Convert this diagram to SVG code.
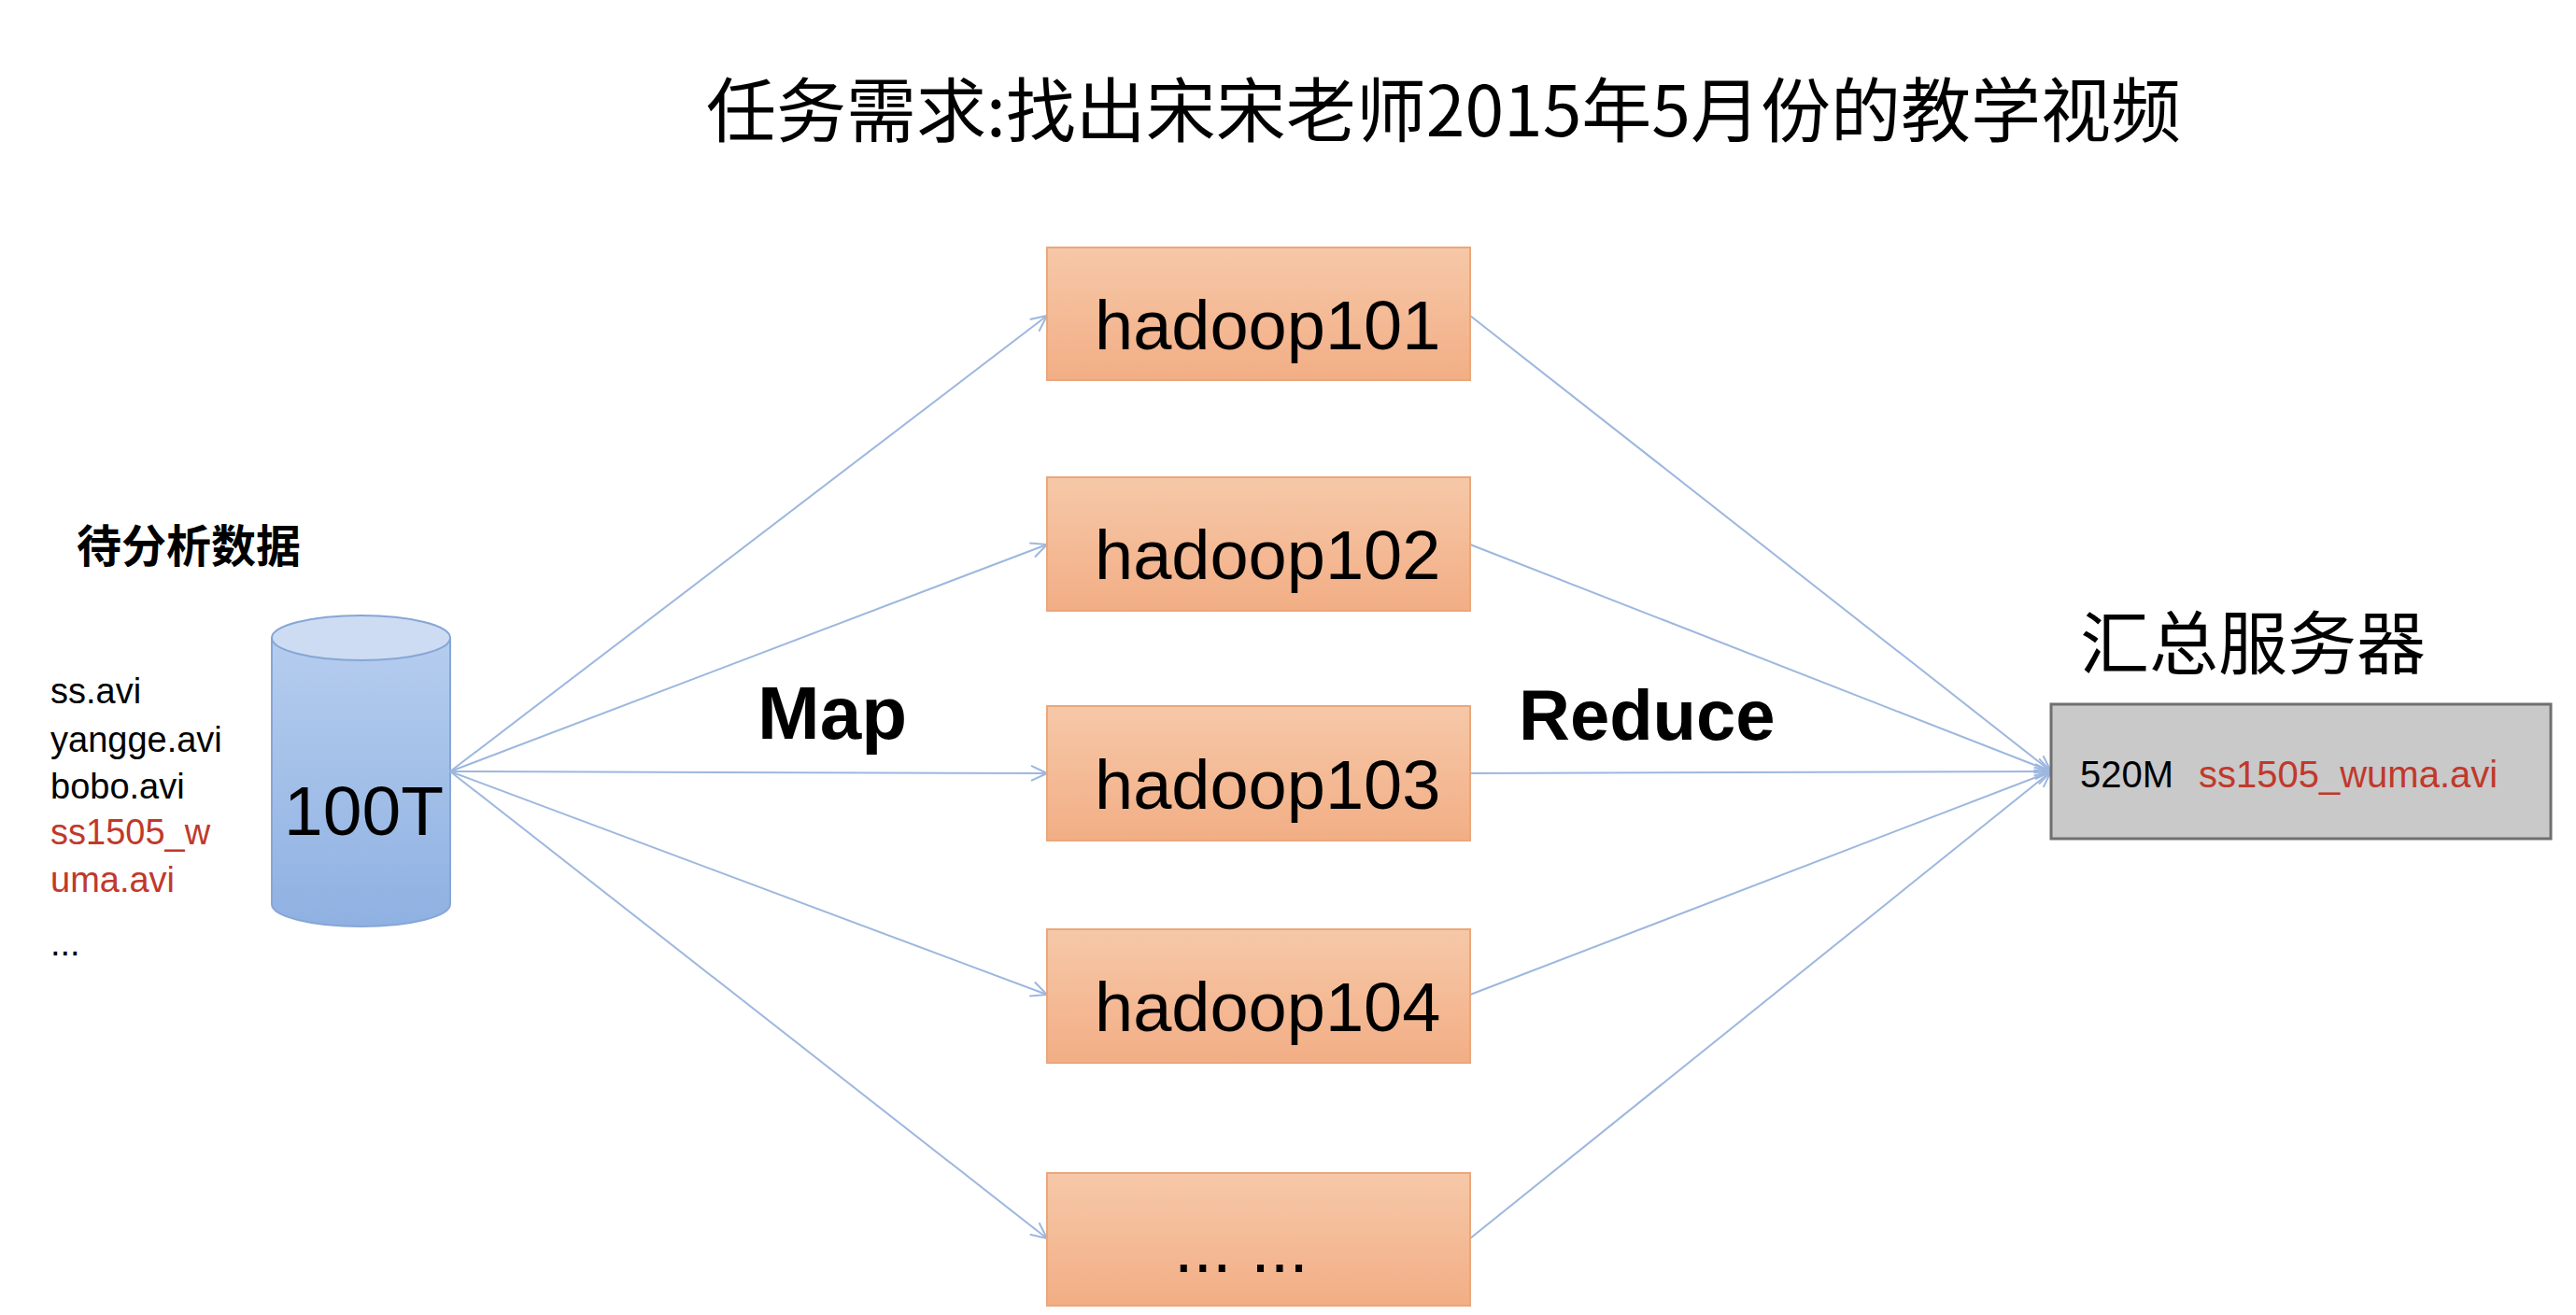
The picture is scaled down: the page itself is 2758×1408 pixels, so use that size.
<svg xmlns="http://www.w3.org/2000/svg" width="2758" height="1408" viewBox="0 0 2758 1408">
<style>
.t{font-family:"Liberation Sans","Noto Sans CJK SC",sans-serif;fill:#000}
.cn{font-family:"Noto Sans CJK SC","Liberation Sans",sans-serif;fill:#000}
.red{fill:#c0392b}
.box{fill:url(#og);stroke:#eaa77a;stroke-width:2}
.h{font-size:74px}
.ln{stroke:#9db7df;stroke-width:2;fill:none;marker-end:url(#ar)}
</style>
<defs>
<linearGradient id="og" x1="0" y1="0" x2="0" y2="1"><stop offset="0" stop-color="#f6c8a8"/><stop offset="1" stop-color="#f2ae85"/></linearGradient>
<linearGradient id="cg" x1="0" y1="0" x2="0" y2="1"><stop offset="0" stop-color="#b5cdee"/><stop offset="1" stop-color="#8fb1e2"/></linearGradient>
<marker id="ar" viewBox="0 0 20 20" refX="19" refY="10" markerWidth="20" markerHeight="20" markerUnits="userSpaceOnUse" orient="auto"><path d="M2 2 L19 10 L2 18" fill="none" stroke="#9db7df" stroke-width="2"/></marker>
</defs>
<rect width="2758" height="1408" fill="#fff"/>
<text class="cn" x="756" y="146" font-size="75">任务需求:找出宋宋老师2015年5月份的教学视频</text>
<g id="data">
<text class="cn" x="82" y="602" font-size="48" font-weight="bold">待分析数据</text>
<text class="t" x="54" y="753" font-size="38">ss.avi</text>
<text class="t" x="54" y="805" font-size="38">yangge.avi</text>
<text class="t" x="54" y="855" font-size="38">bobo.avi</text>
<text class="t red" x="54" y="904" font-size="38">ss1505_w</text>
<text class="t red" x="54" y="955" font-size="38">uma.avi</text>
<text class="t" x="54" y="1023" font-size="38">...</text>
</g>
<g id="cyl">
<path d="M291 683 L291 968 A95.5 24 0 0 0 482 968 L482 683 Z" fill="url(#cg)" stroke="#86a6d6" stroke-width="2"/>
<ellipse cx="386.5" cy="683" rx="95.5" ry="24" fill="#cddcf2" stroke="#86a6d6" stroke-width="2"/>
<text class="t" x="304" y="894" font-size="75">100T</text>
</g>
<g id="connectors">
<line class="ln" x1="482" y1="826" x2="1121" y2="338"/>
<line class="ln" x1="482" y1="826" x2="1121" y2="583"/>
<line class="ln" x1="482" y1="826" x2="1121" y2="828"/>
<line class="ln" x1="482" y1="826" x2="1121" y2="1065"/>
<line class="ln" x1="482" y1="826" x2="1121" y2="1326"/>
<line class="ln" x1="1574" y1="338" x2="2196" y2="826"/>
<line class="ln" x1="1574" y1="583" x2="2196" y2="826"/>
<line class="ln" x1="1574" y1="828" x2="2196" y2="826"/>
<line class="ln" x1="1574" y1="1065" x2="2196" y2="826"/>
<line class="ln" x1="1574" y1="1326" x2="2196" y2="826"/>
</g>
<text class="t" x="811" y="791" font-size="80" font-weight="bold">Map</text>
<text class="t" x="1626" y="792" font-size="76" font-weight="bold">Reduce</text>
<g id="h101"><rect class="box" x="1121" y="265" width="453" height="142"/><text class="t h" x="1172" y="374">hadoop101</text></g>
<g id="h102"><rect class="box" x="1121" y="511" width="453" height="143"/><text class="t h" x="1172" y="620">hadoop102</text></g>
<g id="h103"><rect class="box" x="1121" y="756" width="453" height="144"/><text class="t h" x="1172" y="866">hadoop103</text></g>
<g id="h104"><rect class="box" x="1121" y="995" width="453" height="143"/><text class="t h" x="1172" y="1104">hadoop104</text></g>
<g id="h105"><rect class="box" x="1121" y="1256" width="453" height="142"/><text class="t h" x="1257" y="1362">... ...</text></g>
<g id="server">
<text class="cn" x="2227" y="716" font-size="74">汇总服务器</text>
<rect x="2196" y="754" width="535" height="144" fill="#c9c9c9" stroke="#6f6f6f" stroke-width="3"/>
<text class="t" x="2227" y="843" font-size="40">520M</text>
<text class="t red" x="2354" y="843" font-size="40">ss1505_wuma.avi</text>
</g>
</svg>
